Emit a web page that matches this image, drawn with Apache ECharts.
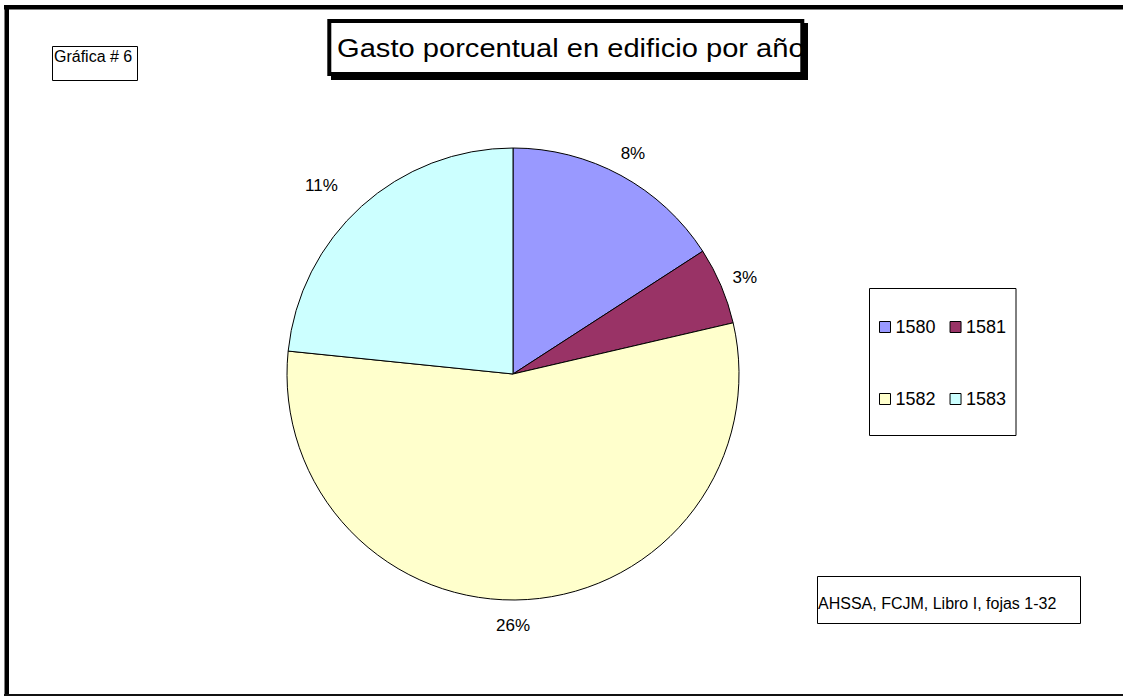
<!DOCTYPE html>
<html>
<head>
<meta charset="utf-8">
<script src="https://cdn.jsdelivr.net/npm/echarts@6/dist/echarts.min.js"></script>
<style>
html,body{margin:0;padding:0;background:#fff;}
#chart{width:1123px;height:697px;}
</style>
</head>
<body>
<div id="chart"></div>
<script>
// ---- data ----
const years = ['1580', '1581', '1582', '1583'];
const shares = [7.55, 2.62, 26.30, 11.13];   // % of total spending (labels are rounded)
const colors = ['#9999FF', '#993366', '#FFFFCC', '#CCFFFF'];
const titleText = 'Gasto porcentual en edificio por año';
const chartTag = 'Gráfica # 6';
const sourceText = 'AHSSA, FCJM, Libro I, fojas 1-32';

// label nudges (style only)
const labelNudge = [[-1, 2], [-1, 2], [-16, -1], [-22, -1]];

const FONT = '"Liberation Sans", Arial, sans-serif';

const chart = echarts.init(document.getElementById('chart'), null, {renderer: 'svg'});

const mainData = years.map((y, i) => ({
  name: y, value: shares[i], itemStyle: {color: colors[i]}
}));
const labelData = years.map((y, i) => ({
  name: y, value: shares[i], label: {offset: labelNudge[i]}
}));

const legendCommon = {
  padding: 0,
  orient: 'horizontal', itemGap: 14,
  icon: 'rect', itemWidth: 11, itemHeight: 11,
  selectedMode: false,
  itemStyle: {borderColor: '#000', borderWidth: 1},
  textStyle: {fontFamily: FONT, fontSize: 18, color: '#000', padding: 0}
};

const option = {
  animation: false,
  backgroundColor: '#ffffff',
  legend: [
    Object.assign({data: years.slice(0, 2), left: 879, top: 318}, legendCommon),
    Object.assign({data: years.slice(2, 4), left: 879, top: 390}, legendCommon)
  ],
  series: [
    {
      type: 'pie',
      center: [513, 374],
      radius: 226,
      startAngle: 90,
      clockwise: true,
      avoidLabelOverlap: false,
      silent: true,
      label: {show: false},
      labelLine: {show: false},
      itemStyle: {borderColor: '#000', borderWidth: 1},
      emphasis: {disabled: true},
      data: mainData
    },
    {
      type: 'pie',
      center: [513, 374],
      radius: [240, 260],
      startAngle: 90,
      clockwise: true,
      avoidLabelOverlap: false,
      silent: true,
      itemStyle: {color: 'rgba(0,0,0,0)', borderWidth: 0},
      label: {
        show: true, position: 'inside',
        formatter: p => Math.round(p.value) + '%',
        fontFamily: FONT, fontSize: 17, color: '#000'
      },
      labelLine: {show: false},
      emphasis: {disabled: true},
      data: labelData
    }
  ],
  graphic: [
    // outer frame
    {type: 'rect', shape: {x: 4, y: 5, width: 1119, height: 4.5}, style: {fill: '#000'}, silent: true},
    {type: 'rect', shape: {x: 4.5, y: 5, width: 4.5, height: 691}, style: {fill: '#000'}, silent: true},
    {type: 'rect', shape: {x: 4, y: 694, width: 1119, height: 2}, style: {fill: '#111'}, silent: true},
    // chart tag box
    {type: 'rect', shape: {x: 52.5, y: 46.5, width: 85, height: 34}, style: {fill: '#fff', stroke: '#000', lineWidth: 1}, silent: true},
    {type: 'text', x: 54, y: 56.3, silent: true,
      style: {text: chartTag, font: '16px ' + FONT, fill: '#000', textAlign: 'left', textVerticalAlign: 'middle'}},
    // title box with shadow
    {type: 'rect', shape: {x: 331, y: 23, width: 477, height: 57}, style: {fill: '#000'}, silent: true},
    {type: 'rect', shape: {x: 329.3, y: 21, width: 473, height: 53}, style: {fill: '#fff', stroke: '#000', lineWidth: 4}, silent: true},
    {type: 'text', x: 337, y: 48, scaleX: 1.12, silent: true, z: 10,
      style: {text: titleText, font: '26px ' + FONT, fill: '#000', textAlign: 'left', textVerticalAlign: 'middle'}},
    // legend box
    {type: 'rect', shape: {x: 869.5, y: 288.5, width: 146.5, height: 147}, style: {fill: 'rgba(0,0,0,0)', stroke: '#000', lineWidth: 1}, silent: true, z: -1},
    // source box
    {type: 'rect', shape: {x: 817.5, y: 576.5, width: 263, height: 47}, style: {fill: '#fff', stroke: '#000', lineWidth: 1}, silent: true},
    {type: 'text', x: 818, y: 603.8, silent: true,
      style: {text: sourceText, font: '16px ' + FONT, fill: '#000', textAlign: 'left', textVerticalAlign: 'middle'}}
  ]
};
chart.setOption(option);
</script>
</body>
</html>
